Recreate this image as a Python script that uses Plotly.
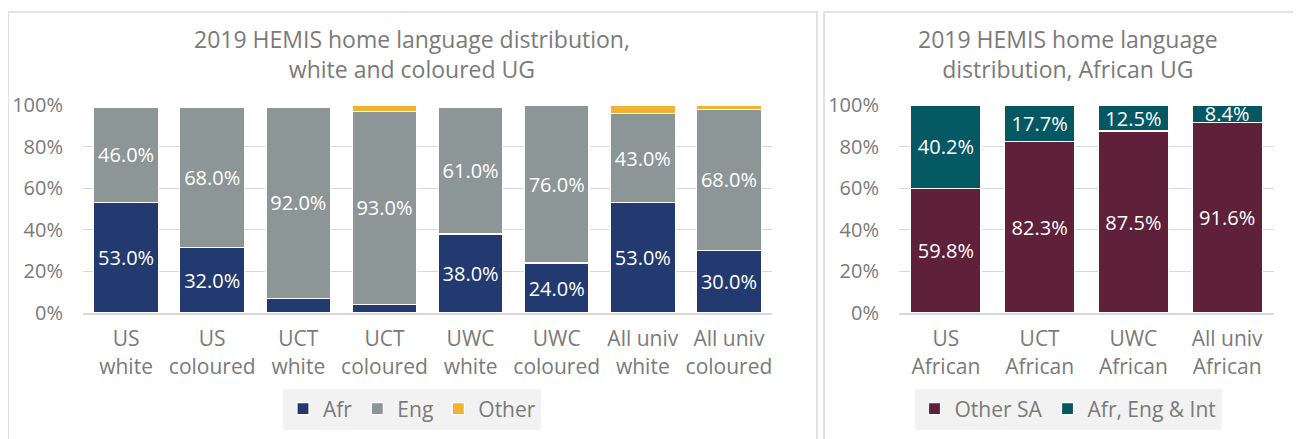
import plotly.graph_objects as go

# ---- data: left panel ----
cats_left = ["US<br>white", "US<br>coloured", "UCT<br>white", "UCT<br>coloured",
             "UWC<br>white", "UWC<br>coloured", "All univ<br>white", "All univ<br>coloured"]
afr = [53, 32, 7, 4, 38, 24, 53, 30]
eng = [46, 68, 92, 93, 61, 76, 43, 68]
other = [1, 1, 1, 3, 1, 0, 4, 2]
afr_labels = ["53.0%", "32.0%", "", "", "38.0%", "24.0%", "53.0%", "30.0%"]
eng_labels = ["46.0%", "68.0%", "92.0%", "93.0%", "61.0%", "76.0%", "43.0%", "68.0%"]

# ---- data: right panel ----
cats_right = ["US<br>African", "UCT<br>African", "UWC<br>African", "All univ<br>African"]
other_sa = [59.8, 82.3, 87.5, 91.6]
afr_eng_int = [40.2, 17.7, 12.5, 8.4]

y_ticks = [0, 20, 40, 60, 80, 100]
y_tick_text = ["0%", "20%", "40%", "60%", "80%", "100%"]

FONT = "Open Sans"
GREY = "#7a7a7a"
W, H = 1301, 439
OFF = 8  # page body margin


def px(x):
    return (x - OFF) / W


def py(y):
    return (H - (y - OFF)) / H


fig = go.Figure()
common = dict(marker_line_color="white", marker_line_width=1.2,
              textposition="inside", insidetextanchor="middle",
              textfont=dict(color="white", size=20, family=FONT),
              constraintext="none", hoverinfo="skip")

fig.add_bar(x=cats_left, y=afr, name="Afr", marker_color="#223a70",
            text=afr_labels, xaxis="x", yaxis="y", legend="legend", **common)
fig.add_bar(x=cats_left, y=eng, name="Eng", marker_color="#8c9696",
            text=eng_labels, xaxis="x", yaxis="y", legend="legend", **common)
fig.add_bar(x=cats_left, y=other, name="Other", marker_color="#f0b22f",
            xaxis="x", yaxis="y", legend="legend", **common)

fig.add_bar(x=cats_right, y=other_sa, name="Other SA", marker_color="#5e2139",
            text=[f"{v:.1f}%" for v in other_sa], xaxis="x2", yaxis="y2",
            legend="legend2", **common)
fig.add_bar(x=cats_right, y=afr_eng_int, name="Afr, Eng & Int", marker_color="#045864",
            text=[f"{v:.1f}%" for v in afr_eng_int], xaxis="x2", yaxis="y2",
            legend="legend2", **common)

ydom = [py(313), py(105)]
yax = dict(range=[0, 100], tickmode="array", tickvals=y_ticks, ticktext=y_tick_text,
           showgrid=True, gridcolor="#d9d9d9", gridwidth=1,
           zeroline=False, showline=False, automargin=False,
           tickfont=dict(size=20, color=GREY, family=FONT),
           ticks="", ticklabelstandoff=19, domain=ydom, fixedrange=True)
xax = dict(showgrid=False, ticks="", showline=True, linecolor="#d9d9d9", linewidth=2,
           tickfont=dict(size=21, color=GREY, family=FONT), ticklabelstandoff=6,
           automargin=False, fixedrange=True)

legend_common = dict(orientation="h", xanchor="center", y=py(409), yanchor="middle",
                     bgcolor="#f2f2f2", itemwidth=30, borderwidth=0,
                     font=dict(size=21, color=GREY, family=FONT), traceorder="normal")

fig.update_layout(
    template="none",
    width=W, height=H,
    margin=dict(l=0, r=0, t=0, b=0, pad=0, autoexpand=False),
    paper_bgcolor="white", plot_bgcolor="white",
    barmode="stack", barnorm="percent", bargap=0.25,
    uniformtext=dict(minsize=20, mode="show"),
    font=dict(family=FONT, color=GREY),
    xaxis=dict(domain=[px(83), px(772)], anchor="y", **xax),
    yaxis=dict(anchor="x", **yax),
    xaxis2=dict(domain=[px(899), px(1274)], anchor="y2", **xax),
    yaxis2=dict(anchor="x2", **yax),
    legend=dict(x=px(412), **legend_common),
    legend2=dict(x=px(1068), **legend_common),
    annotations=[
        dict(text="2019 HEMIS home language distribution,<br>white and coloured UG",
             x=px(412), y=py(54), xref="paper", yref="paper",
             xanchor="center", yanchor="middle", showarrow=False,
             font=dict(size=23, color=GREY, family=FONT)),
        dict(text="2019 HEMIS home language<br>distribution, African UG",
             x=px(1068), y=py(54), xref="paper", yref="paper",
             xanchor="center", yanchor="middle", showarrow=False,
             font=dict(size=23, color=GREY, family=FONT)),
    ],
    shapes=[
        dict(type="rect", xref="paper", yref="paper", x0=px(8), x1=px(817),
             y0=-0.2, y1=py(12), line=dict(color="#d9d9d9", width=1.5)),
        dict(type="rect", xref="paper", yref="paper", x0=px(824), x1=px(1300),
             y0=-0.2, y1=py(12), line=dict(color="#d9d9d9", width=1.5)),
    ],
)

fig.write_html("out.html")
